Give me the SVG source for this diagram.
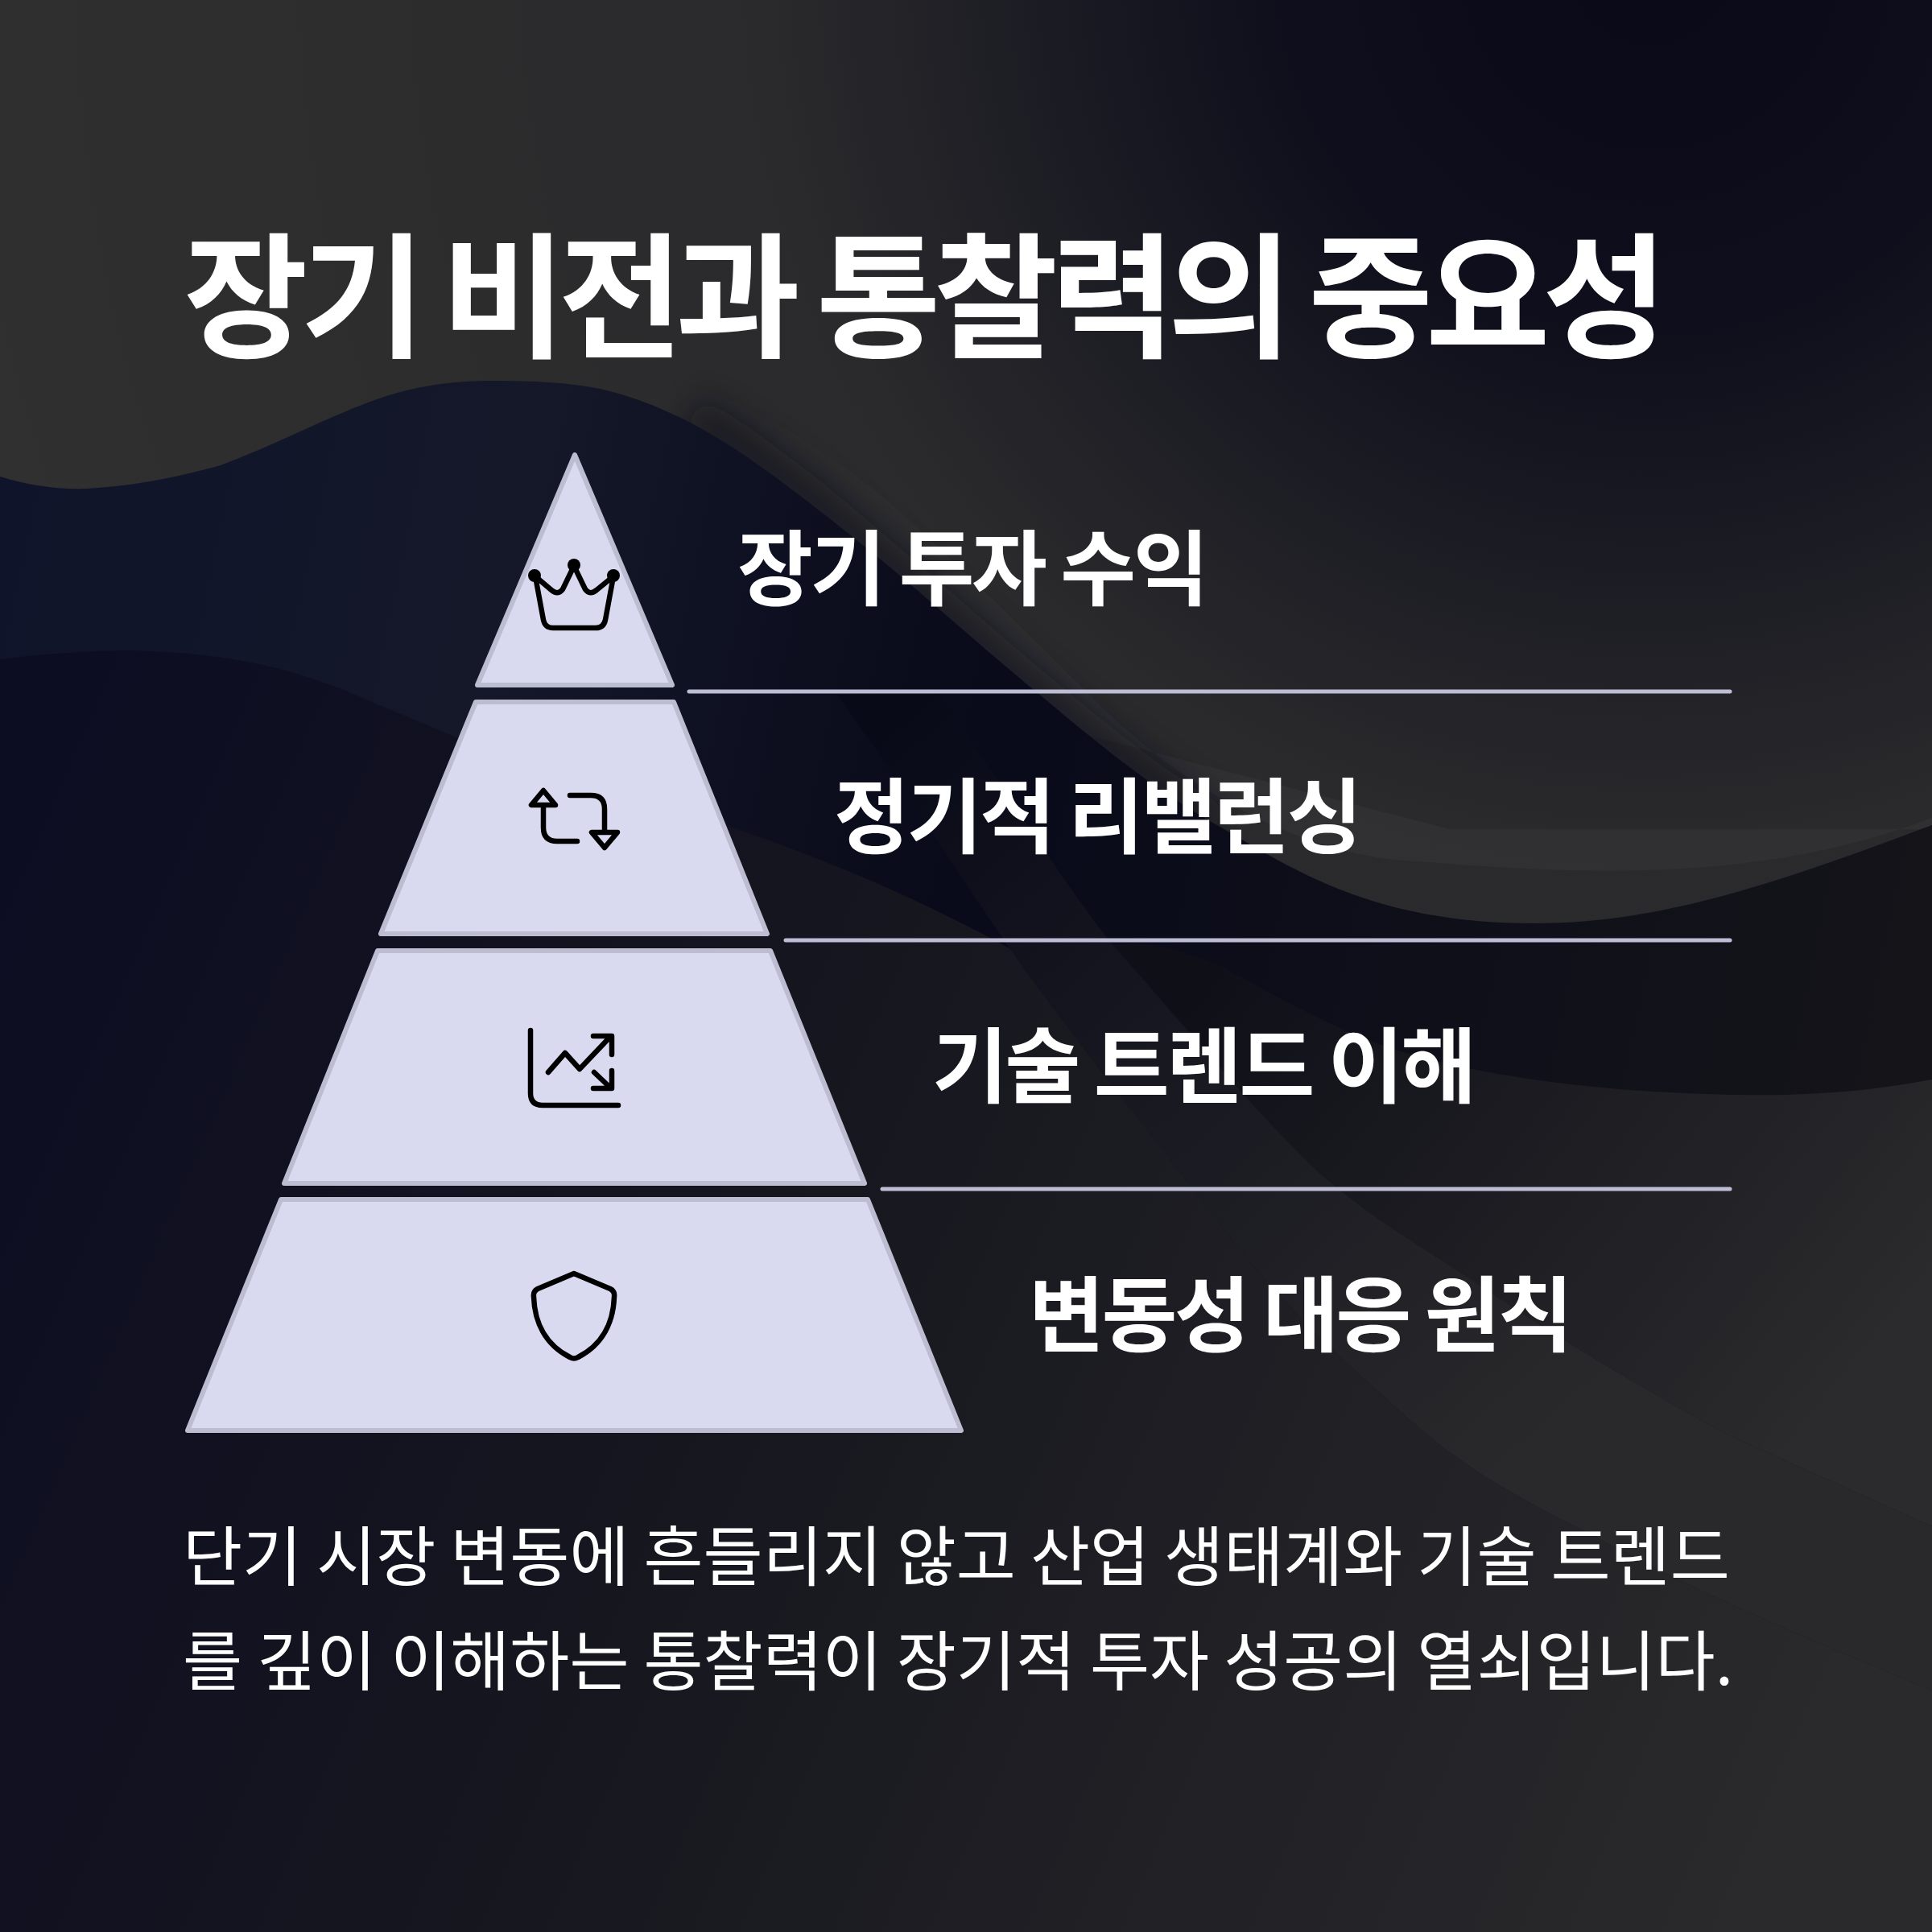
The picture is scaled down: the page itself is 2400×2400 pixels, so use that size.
<svg xmlns="http://www.w3.org/2000/svg" width="2400" height="2400" viewBox="0 0 2400 2400">
<defs>
<radialGradient id="top" gradientUnits="userSpaceOnUse" cx="2050" cy="-50" r="2200"><stop offset="0" stop-color="#090918"/><stop offset="0.2" stop-color="#0e0e1c"/><stop offset="0.5" stop-color="#2a2a2c"/><stop offset="1" stop-color="#303030"/></radialGradient>
<linearGradient id="s1" gradientUnits="userSpaceOnUse" x1="0" y1="700" x2="2400" y2="1200"><stop offset="0" stop-color="#10142a"/><stop offset="0.25" stop-color="#141829"/><stop offset="0.5" stop-color="#090a1a"/><stop offset="1" stop-color="#141419"/></linearGradient>
<linearGradient id="s2" gradientUnits="userSpaceOnUse" x1="0" y1="1100" x2="2300" y2="2100"><stop offset="0" stop-color="#0c0d22"/><stop offset="0.45" stop-color="#17171f"/><stop offset="1" stop-color="#2a2a2c"/></linearGradient>
<linearGradient id="s3" gradientUnits="userSpaceOnUse" x1="1100" y1="900" x2="1900" y2="1800"><stop offset="0" stop-color="#090a18"/><stop offset="1" stop-color="#29292b"/></linearGradient>
<linearGradient id="s4" gradientUnits="userSpaceOnUse" x1="1500" y1="1200" x2="2250" y2="1800"><stop offset="0" stop-color="#0f0f18"/><stop offset="1" stop-color="#2b2b2d"/></linearGradient>
<linearGradient id="fade" gradientUnits="userSpaceOnUse" x1="800" y1="0" x2="1400" y2="0"><stop offset="0" stop-color="#fff" stop-opacity="0"/><stop offset="1" stop-color="#fff" stop-opacity="0.03"/></linearGradient>
<filter id="soft" x="-20%" y="-20%" width="140%" height="140%"><feGaussianBlur stdDeviation="18"/></filter>
<style>
.tier{fill:#d9d9f0;stroke:#bdbdd2;stroke-width:6;stroke-linejoin:round}
.rule{stroke:#bdbdd6;stroke-width:5;stroke-linecap:round;fill:none}
.icon{fill:none;stroke:#000;stroke-width:6.5;stroke-linecap:round;stroke-linejoin:round}
text{font-family:"Noto Sans CJK KR","Noto Sans",sans-serif;fill:#fff}
.title{font-size:168px;font-weight:700;letter-spacing:-9px}
.label{font-size:102px;font-weight:700;letter-spacing:-3.4px}
.body{font-size:80.5px;font-weight:400}
</style>
</defs>
<rect width="2400" height="2400" fill="url(#top)"/>
<path d="M800 470C900 480 1000 540 1100 620C1200 710 1280 790 1370 880C1480 985 1620 1064 1761 1070C1950 1085 2180 1100 2400 1016V1030H1800L1300 900L900 560Z" fill="url(#fade)"/>
<path d="M860 515C1000 600 1120 720 1293 864C1390 945 1450 990 1512 1025" fill="none" stroke="#0b0b1c" stroke-width="50" opacity="0.55" filter="url(#soft)"/>
<path id="wave-main" d="M0 592C35 603 70 608 108 607C165 604 220 593 274 578C350 550 430 505 497 487C540 476 575 473 614 473C660 473 705 475 746 483C805 497 860 523 912 557C970 595 1025 640 1078 682C1150 740 1220 805 1293 864C1365 925 1440 985 1512 1025C1600 1075 1700 1147 1905 1147C2060 1147 2200 1100 2400 1025V2400H0Z" fill="url(#s1)"/>
<path id="wave-band" d="M1378 1169C1420 1170 1465 1178 1512 1198C1590 1240 1680 1292 1761 1312C1900 1350 2080 1362 2220 1360C2290 1358 2340 1352 2400 1341V1896C2320 1860 2230 1820 2144 1781C2050 1730 1950 1672 1857 1609C1770 1550 1695 1510 1627 1446C1540 1360 1460 1260 1378 1169Z" fill="url(#s4)"/>
<path id="wave-strip" d="M1040 863L1168 863C1240 970 1310 1080 1378 1169C1460 1260 1540 1360 1627 1446C1695 1510 1770 1550 1857 1609C1950 1672 2050 1730 2144 1781C2230 1820 2320 1860 2400 1896V2100C2280 2050 2160 2000 2048 1944C1950 1890 1850 1850 1761 1772C1680 1700 1610 1640 1532 1542C1440 1420 1340 1300 1254 1178C1180 1070 1110 960 1040 863Z" fill="url(#s3)"/>
<path id="wave-low" d="M0 819C55 812 110 808 166 808C225 810 280 815 332 827C380 838 425 855 464 873C505 890 545 906 580 922C690 965 800 990 904 1026C1010 1062 1130 1110 1254 1178C1340 1300 1440 1420 1532 1542C1610 1640 1680 1700 1761 1772C1850 1850 1950 1890 2048 1944C2160 2000 2280 2050 2400 2100V2400H0Z" fill="url(#s2)"/>
<g id="tier-1"><path class="tier" d="M714 565L835 851H593Z"/><path class="icon" d="M665 716L675 770Q677 780 687 780H740Q750 780 752 770L762 716L741 733Q733 740 727 732L713 703L699 732Q693 740 685 733Z"/><circle cx="664" cy="715" r="8"/><circle cx="713" cy="702" r="8"/><circle cx="762" cy="715" r="8"/></g>
<g id="tier-2"><path class="tier" d="M591 872H837L953 1160H473Z"/><path class="icon" d="M675 1000V1028Q675 1045 692 1045H717M708 988H734Q751 988 751 1005V1033M675 982L660 1000H690ZM751 1053L735 1034H767Z"/></g>
<g id="tier-3"><path class="tier" d="M469 1181H957L1074 1470H353Z"/><path class="icon" d="M659 1280V1358Q659 1373 674 1373H768M681 1332L702 1308L720 1328L758 1288M737 1287H760V1310M738 1332L758 1351M737 1352H760V1330"/></g>
<g id="tier-4"><path class="tier" d="M349 1490H1078L1194 1777H233Z"/><path class="icon" d="M713 1582L668 1601Q662 1604 663 1611C664 1642 677 1670 708 1686Q713 1689 718 1686C749 1670 762 1642 763 1611Q764 1604 758 1601Z"/></g>
<g id="connectors"><path class="rule" d="M856 859H2149"/><path class="rule" d="M976 1168H2149"/><path class="rule" d="M1096 1477H2149"/></g>
<text class="title" x="228" y="431">장기 비전과 통찰력의 중요성</text>
<text class="label" x="916" y="744">장기 투자 수익</text>
<text class="label" x="1036" y="1052">정기적 리밸런싱</text>
<text class="label" x="1158" y="1362">기술 트렌드 이해</text>
<text class="label" x="1278" y="1671">변동성 대응 원칙</text>
<text class="body" x="227" y="1963">단기 시장 변동에 흔들리지 않고 산업 생태계와 기술 트렌드</text>
<text class="body" x="227" y="2093">를 깊이 이해하는 통찰력이 장기적 투자 성공의 열쇠입니다.</text>
</svg>
